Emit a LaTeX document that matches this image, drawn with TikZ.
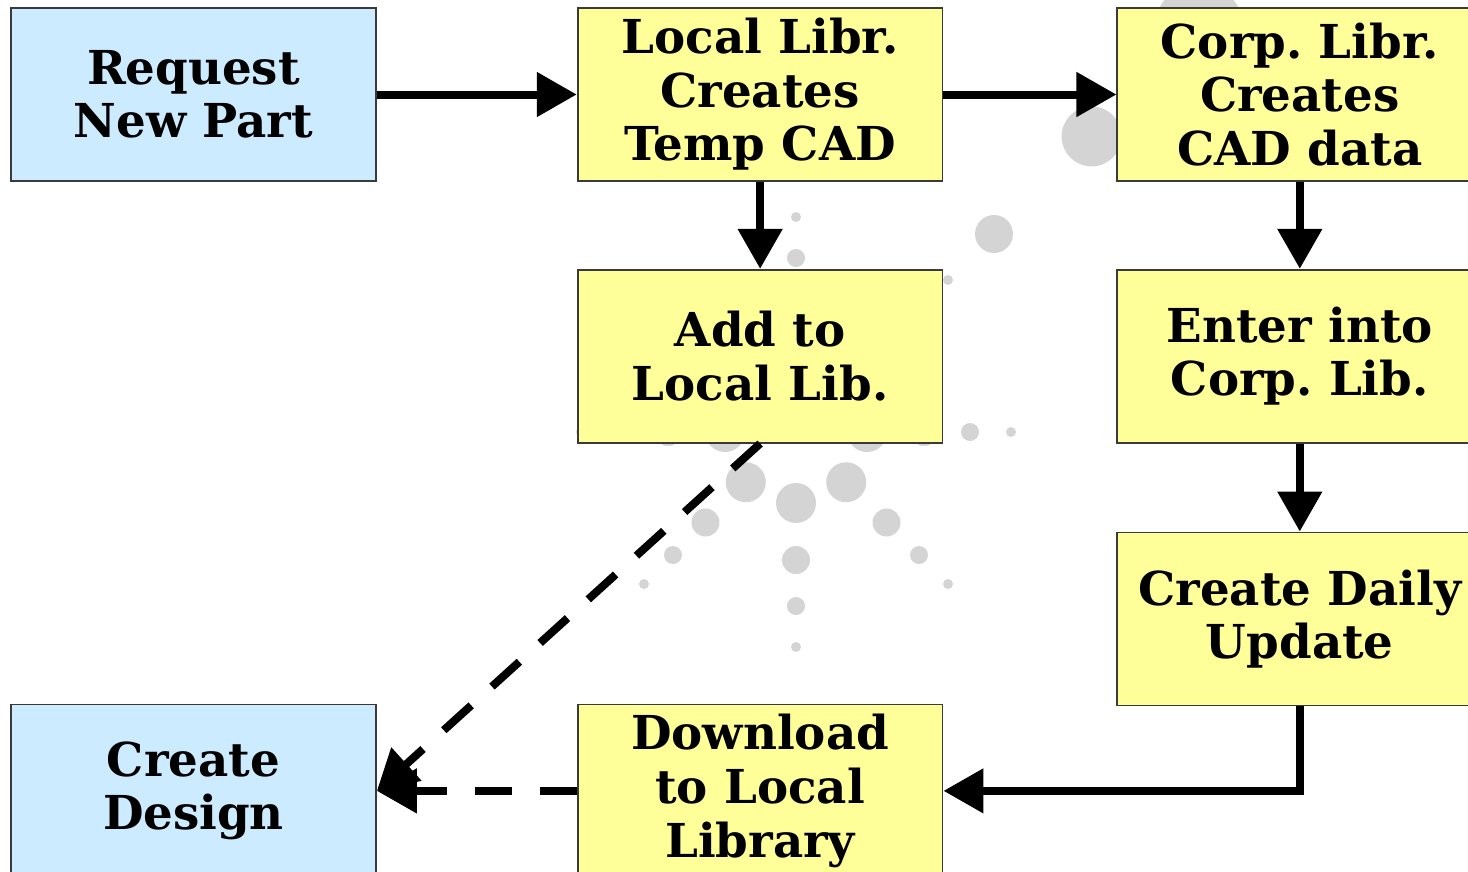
\documentclass[tikz,border=0pt]{standalone}
\usepackage{fontspec}
\setmainfont{DejaVu Serif}
\frenchspacing
\usetikzlibrary{arrows.meta,positioning}

\definecolor{boxblue}{HTML}{CCEBFF}
\definecolor{boxyellow}{HTML}{FFFF99}
\definecolor{dotgray}{HTML}{D4D4D4}
\definecolor{edgegray}{HTML}{3A3A3A}

\begin{document}
\begin{tikzpicture}[x=0.02cm,y=-0.02cm,
    >={Triangle[length=0.8cm,width=0.86cm]},
    flow/.style={->,line width=0.16cm},
    dashflow/.style={flow,dash pattern=on 0.74cm off 0.56cm},
    box/.style={draw=edgegray,line width=1pt,fill=boxyellow,
      minimum width=7.3cm,minimum height=3.46cm,align=center,inner sep=0pt,
      font=\fontsize{26.6}{30.5}\selectfont\bfseries},
    user/.style={box,fill=boxblue},
    node distance=1.74cm and 4cm]

  \useasboundingbox (0,0) rectangle (1468,872);
  \clip (0,0) rectangle (1468,872);

  % dots behind the boxes
  \foreach \a in {0,45,...,315}
    \foreach \d/\r in {71/0.4,128/0.28,174/0.18,215/0.1}
      \fill[dotgray] (796,432) ++(\a:\d) circle (\r cm);
  \foreach \d/\r in {280/0.38,418/0.6,570/0.9}
    \fill[dotgray] (796,432) ++(-45:\d) circle (\r cm);

  \node[user] (request) at (193.5,94.5) {Request\\New Part};
  \node[box, right=of request] (temp) {Local Libr.\\Creates\\Temp CAD};
  \node[box, right=3.46cm of temp] (corp) {Corp. Libr.\\Creates\\CAD data};
  \node[box, below=of temp] (addlocal) {Add to\\Local Lib.};
  \node[box, below=of corp] (entercorp) {Enter into\\Corp. Lib.};
  \node[box, below=1.76cm of entercorp] (daily) {Create Daily\\Update};
  \node[box, below=5.2cm of addlocal] (download) {Download\\to Local\\Library};
  \node[user, left=of download] (design) {Create\\Design};

  \draw[flow] (request) -- (temp);
  \draw[flow] (temp) -- (corp);
  \draw[flow] (temp) -- (addlocal);
  \draw[flow] (corp) -- (entercorp);
  \draw[flow] (entercorp) -- (daily);
  \draw[flow] (daily.south) |- (download);
  \draw[dashflow] (addlocal.south) -- (design.east);
  \draw[dashflow] (download) -- (design);

\end{tikzpicture}
\end{document}
